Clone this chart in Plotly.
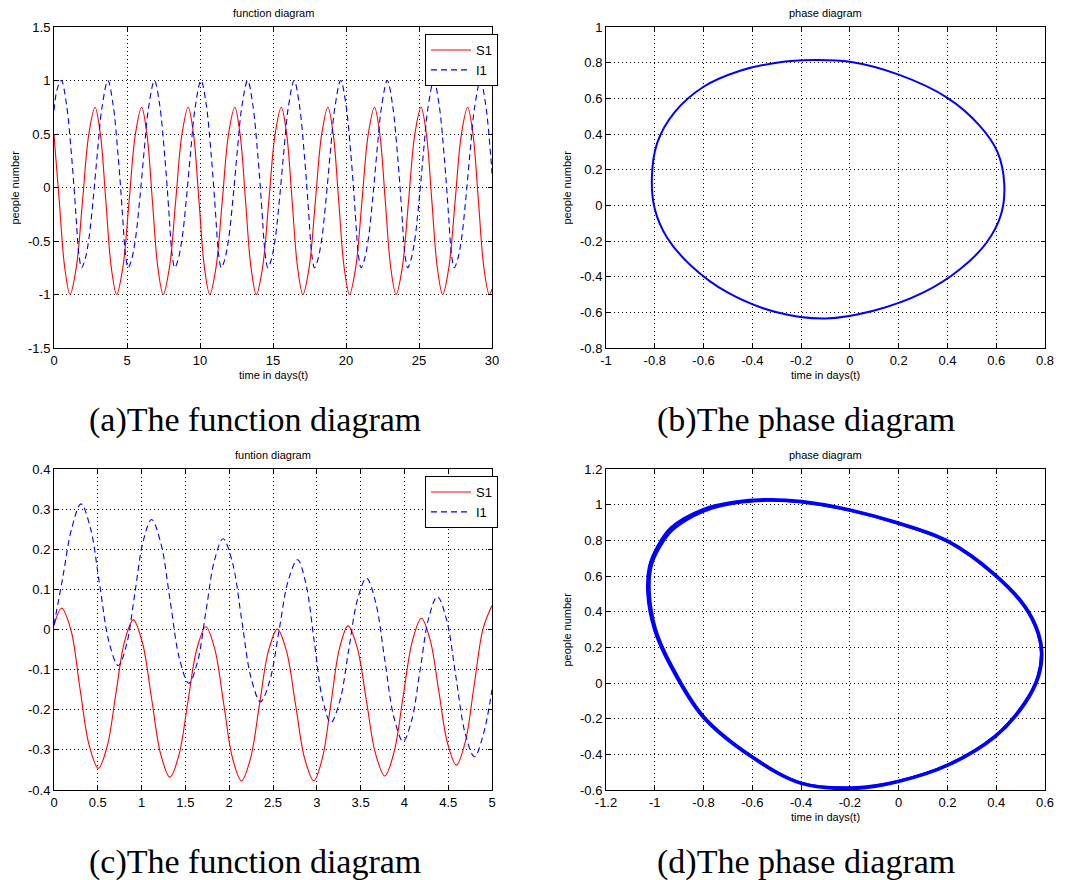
import plotly.graph_objects as go

W, H = 1068, 880

# ---------------- data ----------------
# (a) function diagram, 0..30 days
a_s1_t = [0, 0.36, 0.73,
          1.10, 1.53, 1.955, 2.38, 2.81, 3.18, 3.55, 3.92,
          4.29, 4.72, 5.145, 5.57, 6.00, 6.37, 6.74, 7.11,
          7.48, 7.91, 8.335, 8.76, 9.19, 9.56, 9.93, 10.30,
          10.67, 11.10, 11.525, 11.95, 12.38, 12.75, 13.12, 13.49,
          13.86, 14.29, 14.715, 15.14, 15.57, 15.94, 16.31, 16.68,
          17.05, 17.48, 17.905, 18.33, 18.76, 19.13, 19.50, 19.87,
          20.24, 20.67, 21.095, 21.52, 21.95, 22.32, 22.69, 23.06,
          23.43, 23.86, 24.285, 24.71, 25.14, 25.51, 25.88, 26.25,
          26.62, 27.05, 27.475, 27.90, 28.33, 28.70, 29.07, 29.44,
          29.81, 30.0]
a_s1_v = [0.49, -0.125, -0.744,
          -1, -0.744, -0.125, 0.494, 0.75, 0.494, -0.125, -0.744,
          -1, -0.744, -0.125, 0.494, 0.75, 0.494, -0.125, -0.744,
          -1, -0.744, -0.125, 0.494, 0.75, 0.494, -0.125, -0.744,
          -1, -0.744, -0.125, 0.494, 0.75, 0.494, -0.125, -0.744,
          -1, -0.744, -0.125, 0.494, 0.75, 0.494, -0.125, -0.744,
          -1, -0.744, -0.125, 0.494, 0.75, 0.494, -0.125, -0.744,
          -1, -0.744, -0.125, 0.494, 0.75, 0.494, -0.125, -0.744,
          -1, -0.744, -0.125, 0.494, 0.75, 0.494, -0.125, -0.744,
          -1, -0.744, -0.125, 0.494, 0.75, 0.494, -0.125, -0.744,
          -1, -0.95]

a_i1_t = [0, 0.22,
          0.50, 0.85, 1.20, 1.50, 1.62, 1.72, 1.89, 2.11, 2.39, 2.69, 2.99, 3.29,
          3.69, 4.04, 4.39, 4.69, 4.81, 4.91, 5.08, 5.30, 5.58, 5.88, 6.18, 6.48,
          6.88, 7.23, 7.58, 7.88, 8.00, 8.10, 8.27, 8.49, 8.77, 9.07, 9.37, 9.67,
          10.07, 10.42, 10.77, 11.07, 11.19, 11.29, 11.46, 11.68, 11.96, 12.26, 12.56, 12.86,
          13.26, 13.61, 13.96, 14.26, 14.38, 14.48, 14.65, 14.87, 15.15, 15.45, 15.75, 16.05,
          16.45, 16.80, 17.15, 17.45, 17.57, 17.67, 17.84, 18.06, 18.34, 18.64, 18.94, 19.24,
          19.64, 19.99, 20.34, 20.64, 20.76, 20.86, 21.03, 21.25, 21.53, 21.83, 22.13, 22.43,
          22.83, 23.18, 23.53, 23.83, 23.95, 24.05, 24.22, 24.44, 24.72, 25.02, 25.32, 25.62,
          26.02, 26.37, 26.72, 27.02, 27.14, 27.24, 27.41, 27.63, 27.91, 28.21, 28.51, 28.81,
          29.21, 29.56, 29.91, 30.0]
a_i1_v = [0.72, 0.92,
          1.0, 0.78, 0.30, -0.25, -0.5, -0.64, -0.75, -0.68, -0.48, -0.1, 0.35, 0.75,
          1.0, 0.78, 0.30, -0.25, -0.5, -0.64, -0.75, -0.68, -0.48, -0.1, 0.35, 0.75,
          1.0, 0.78, 0.30, -0.25, -0.5, -0.64, -0.75, -0.68, -0.48, -0.1, 0.35, 0.75,
          1.0, 0.78, 0.30, -0.25, -0.5, -0.64, -0.75, -0.68, -0.48, -0.1, 0.35, 0.75,
          1.0, 0.78, 0.30, -0.25, -0.5, -0.64, -0.75, -0.68, -0.48, -0.1, 0.35, 0.75,
          1.0, 0.78, 0.30, -0.25, -0.5, -0.64, -0.75, -0.68, -0.48, -0.1, 0.35, 0.75,
          1.0, 0.78, 0.30, -0.25, -0.5, -0.64, -0.75, -0.68, -0.48, -0.1, 0.35, 0.75,
          1.0, 0.78, 0.30, -0.25, -0.5, -0.64, -0.75, -0.68, -0.48, -0.1, 0.35, 0.75,
          1.0, 0.78, 0.30, -0.25, -0.5, -0.64, -0.75, -0.68, -0.48, -0.1, 0.35, 0.75,
          1.0, 0.78, 0.30, 0.13]

# (b) phase diagram loop
b_x = [-0.15, 0.0, 0.2, 0.4, 0.53, 0.605, 0.633, 0.62, 0.56, 0.45, 0.3, 0.1, -0.1,
       -0.3, -0.5, -0.65, -0.75, -0.8, -0.812, -0.79, -0.72, -0.6, -0.45, -0.3, -0.15]
b_y = [0.815, 0.805, 0.733, 0.603, 0.45, 0.3, 0.12, -0.05, -0.21, -0.36, -0.49, -0.59,
       -0.635, -0.6, -0.49, -0.34, -0.18, -0.02, 0.15, 0.35, 0.52, 0.665, 0.755, 0.8, 0.815]

# (c) function diagram, 0..5 days
c_s1_t = [0, 0.087, 0.192, 0.2965, 0.401, 0.506, 0.606, 0.7055, 0.805, 0.905,
          1.0095, 1.114, 1.2185, 1.323, 1.426, 1.5285, 1.631, 1.734, 1.8355, 1.937,
          2.0385, 2.14, 2.2425, 2.345, 2.4475, 2.55, 2.654, 2.758, 2.862, 2.966,
          3.064, 3.1615, 3.259, 3.357, 3.462, 3.5665, 3.671, 3.776, 3.8805, 3.985,
          4.0895, 4.194, 4.294, 4.3935, 4.493, 4.593, 4.695, 4.7965, 4.898, 5.0]
c_s1_v = [0.01, 0.053, 0.0, -0.147, -0.288, -0.346, -0.292, -0.161, -0.030, 0.024,
          -0.033, -0.172, -0.311, -0.368, -0.313, -0.18, -0.048, 0.007, -0.049, -0.185,
          -0.321, -0.377, -0.322, -0.188, -0.054, 0.001, -0.054, -0.188, -0.322, -0.377,
          -0.32, -0.184, -0.047, 0.009, -0.046, -0.178, -0.31, -0.365, -0.307, -0.168,
          -0.03, 0.028, -0.026, -0.155, -0.284, -0.338, -0.28, -0.139, 0.002, 0.06]
c_i1_t = [0, 0.1, 0.2, 0.308, 0.4145, 0.521, 0.6275, 0.734, 0.829, 0.924, 1.019,
          1.114, 1.2205, 1.327, 1.4335, 1.54, 1.6375, 1.735, 1.8325, 1.93, 2.037,
          2.1435, 2.25, 2.357, 2.4628, 2.5685, 2.674, 2.78, 2.875, 2.97, 3.065,
          3.16, 3.262, 3.3635, 3.465, 3.567, 3.6715, 3.776, 3.8805, 3.985, 4.083,
          4.1805, 4.278, 4.376, 4.482, 4.588, 4.694, 4.80, 4.9, 5.0]
c_i1_v = [0.012, 0.13, 0.25, 0.313, 0.254, 0.1115, -0.031, -0.09, -0.037, 0.092, 0.221,
          0.274, 0.214, 0.07, -0.074, -0.134, -0.081, 0.046, 0.173, 0.226, 0.167,
          0.023, -0.121, -0.18, -0.128, -0.003, 0.122, 0.174, 0.115, -0.029, -0.173,
          -0.232, -0.179, -0.052, 0.075, 0.128, 0.068, -0.076, -0.219, -0.279, -0.226,
          -0.099, 0.029, 0.082, 0.024, -0.118, -0.259, -0.317, -0.262, -0.15]

# (d) phase diagram, two nearly overlapping loops
d_x1 = [-0.536, -0.399, -0.201, -0.002, 0.203, 0.395, 0.518, 0.573, 0.587, 0.573, 0.518,
        0.395, 0.203, -0.002, -0.17, -0.399, -0.604, -0.803, -0.933, -1.000, -1.028,
        -1.021, -0.987, -0.933, -0.803, -0.673, -0.536]
d_y1 = [1.028, 1.018, 0.971, 0.897, 0.794, 0.607, 0.429, 0.279, 0.167, 0.036, -0.114,
        -0.301, -0.460, -0.553, -0.590, -0.563, -0.413, -0.188, 0.092, 0.298, 0.504,
        0.654, 0.766, 0.869, 0.971, 1.013, 1.028]
d_x2 = [-0.536, -0.399, -0.201, -0.002, 0.203, 0.393, 0.515, 0.570, 0.584, 0.570, 0.515,
        0.393, 0.203, -0.002, -0.17, -0.399, -0.602, -0.800, -0.929, -0.995, -1.021,
        -1.014, -0.980, -0.925, -0.798, -0.670, -0.536]
d_y2 = [1.023, 1.014, 0.967, 0.894, 0.791, 0.604, 0.427, 0.278, 0.166, 0.037, -0.111,
        -0.298, -0.457, -0.550, -0.585, -0.560, -0.410, -0.185, 0.095, 0.300, 0.504,
        0.652, 0.760, 0.860, 0.963, 1.008, 1.023]

# axis ticks
a_xticks = [0, 5, 10, 15, 20, 25, 30]
a_yticks = [-1.5, -1, -0.5, 0, 0.5, 1, 1.5]
b_xticks = [-1, -0.8, -0.6, -0.4, -0.2, 0, 0.2, 0.4, 0.6, 0.8]
b_yticks = [-0.8, -0.6, -0.4, -0.2, 0, 0.2, 0.4, 0.6, 0.8, 1]
c_xticks = [0, 0.5, 1, 1.5, 2, 2.5, 3, 3.5, 4, 4.5, 5]
c_yticks = [-0.4, -0.3, -0.2, -0.1, 0, 0.1, 0.2, 0.3, 0.4]
d_xticks = [-1.2, -1, -0.8, -0.6, -0.4, -0.2, 0, 0.2, 0.4, 0.6]
d_yticks = [-0.6, -0.4, -0.2, 0, 0.2, 0.4, 0.6, 0.8, 1, 1.2]

titles = ["function diagram", "phase diagram", "funtion diagram", "phase diagram"]
captions = ["(a)The function diagram", "(b)The phase diagram",
            "(c)The function diagram", "(d)The phase diagram"]
xlabel = "time in days(t)"
ylabel = "people number"

# ---------------- layout helpers ----------------
SANS = "Liberation Sans, Arial, sans-serif"
SERIF = "Liberation Serif, Times New Roman, serif"


def px(x):
    return x / W


def py(y):
    return 1 - y / H


# plot-area rectangles in pixels (left, top, right, bottom)
boxes = [(54, 27, 492, 348), (606, 27, 1045, 348),
         (54, 469, 492, 790), (606, 469, 1045, 790)]


def lab(v):
    return "%g" % v


fig = go.Figure()

RED = "#ff0000"
BLUE = "#0000ff"

fig.add_trace(go.Scatter(x=a_s1_t, y=a_s1_v, mode="lines", name="S1",
                         line=dict(color=RED, width=1.1, shape="spline", smoothing=1.0),
                         xaxis="x", yaxis="y", legend="legend"))
fig.add_trace(go.Scatter(x=a_i1_t, y=a_i1_v, mode="lines", name="I1",
                         line=dict(color=BLUE, width=1.1, dash="6px,4px", shape="spline", smoothing=1.0),
                         xaxis="x", yaxis="y", legend="legend"))
fig.add_trace(go.Scatter(x=b_x, y=b_y, mode="lines", showlegend=False,
                         line=dict(color=BLUE, width=2, shape="spline", smoothing=1.0),
                         xaxis="x2", yaxis="y2"))
fig.add_trace(go.Scatter(x=c_s1_t, y=c_s1_v, mode="lines", name="S1",
                         line=dict(color=RED, width=1.1, shape="spline", smoothing=1.0),
                         xaxis="x3", yaxis="y3", legend="legend2"))
fig.add_trace(go.Scatter(x=c_i1_t, y=c_i1_v, mode="lines", name="I1",
                         line=dict(color=BLUE, width=1.1, dash="6px,4px", shape="spline", smoothing=1.0),
                         xaxis="x3", yaxis="y3", legend="legend2"))
fig.add_trace(go.Scatter(x=d_x1, y=d_y1, mode="lines", showlegend=False,
                         line=dict(color=BLUE, width=3.5, shape="spline", smoothing=1.0),
                         xaxis="x4", yaxis="y4"))
fig.add_trace(go.Scatter(x=d_x2, y=d_y2, mode="lines", showlegend=False,
                         line=dict(color=BLUE, width=2.5, shape="spline", smoothing=1.0),
                         xaxis="x4", yaxis="y4"))

ticks = [(a_xticks, a_yticks, [0, 30], [-1.5, 1.5]),
         (b_xticks, b_yticks, [-1, 0.8], [-0.8, 1]),
         (c_xticks, c_yticks, [0, 5], [-0.4, 0.4]),
         (d_xticks, d_yticks, [-1.2, 0.6], [-0.6, 1.2])]

layout = dict(template="none", width=W, height=H, margin=dict(l=0, r=0, t=0, b=0, pad=0),
              paper_bgcolor="white", plot_bgcolor="white",
              font=dict(family=SANS, size=13, color="black"),
              annotations=[])

for i, ((l, t, r, b), (xt, yt, xr, yr)) in enumerate(zip(boxes, ticks)):
    n = "" if i == 0 else str(i + 1)
    common = dict(showline=True, linecolor="black", linewidth=1, mirror="ticks",
                  ticks="inside", ticklen=4, tickcolor="black", tickwidth=1,
                  showgrid=True, gridcolor="black", gridwidth=1, griddash="1px,3px",
                  zeroline=False, automargin=False,
                  tickfont=dict(family=SANS, size=13, color="black"),
                  fixedrange=True)
    layout["xaxis" + n] = dict(domain=[px(l), px(r)], range=xr, tickmode="array",
                               tickvals=xt, ticktext=[lab(v) for v in xt],
                               anchor="y" + n, **common)
    layout["yaxis" + n] = dict(domain=[py(b), py(t)], range=yr, tickmode="array",
                               tickvals=yt, ticktext=[lab(v) for v in yt],
                               anchor="x" + n, **common)
    cx = (l + r) / 2
    layout["annotations"].append(dict(text=titles[i], x=px(cx), y=py(t - 14), xref="paper", yref="paper",
                                      showarrow=False, xanchor="center", yanchor="middle",
                                      font=dict(family=SANS, size=11, color="black")))
    layout["annotations"].append(dict(text=captions[i], x=px(cx - 18 if i % 2 == 0 else cx - 20),
                                      y=py(b + 72), xref="paper", yref="paper", showarrow=False,
                                      xanchor="center", yanchor="middle",
                                      font=dict(family=SERIF, size=34, color="black")))
    if i != 2:
        layout["annotations"].append(dict(text=xlabel, x=px(cx), y=py(b + 27), xref="paper", yref="paper",
                                          showarrow=False, xanchor="center", yanchor="middle",
                                          font=dict(family=SANS, size=11, color="black")))
        layout["annotations"].append(dict(text=ylabel, x=px(l - 40), y=py((t + b) / 2), xref="paper",
                                          yref="paper", showarrow=False, textangle=-90,
                                          xanchor="center", yanchor="middle",
                                          font=dict(family=SANS, size=11, color="black")))

leg = dict(xanchor="right", yanchor="top", bgcolor="white", bordercolor="black", borderwidth=1,
           font=dict(family=SANS, size=13, color="black"), tracegroupgap=0, itemwidth=40)
layout["legend"] = dict(x=px(498), y=py(34), **leg)
layout["legend2"] = dict(x=px(498), y=py(476), **leg)
layout["showlegend"] = True

fig.update_layout(**layout)
fig.write_html("out.html")
